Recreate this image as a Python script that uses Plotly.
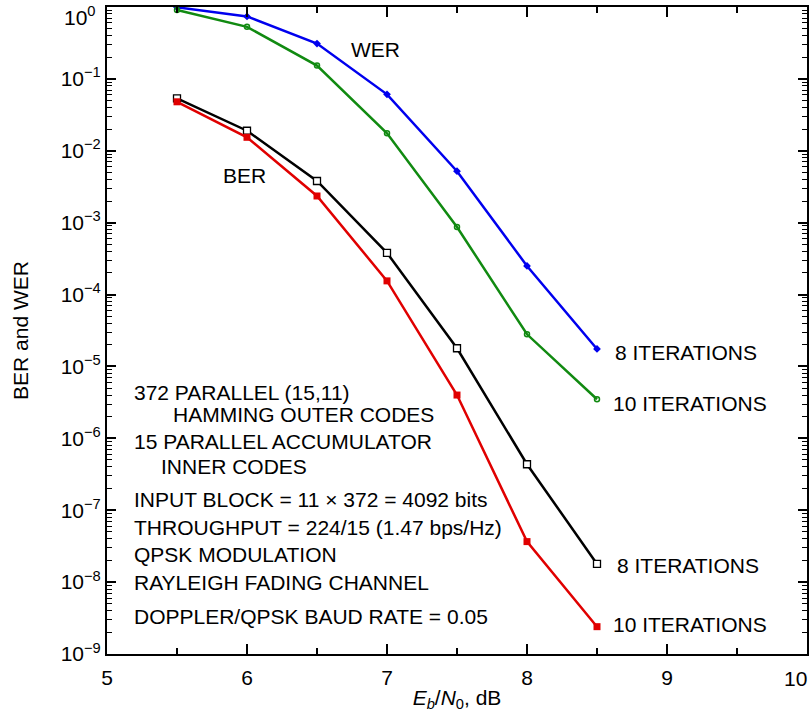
import plotly.graph_objects as go

ebn0 = [5.5, 6.0, 6.5, 7.0, 7.5, 8.0, 8.5]
wer_8 = [0.99, 0.74, 0.31, 0.061, 5.2e-3, 2.5e-4, 1.75e-5]
wer_10 = [0.91, 0.53, 0.153, 0.0175, 8.7e-4, 2.8e-5, 3.5e-6]
ber_8 = [0.0537, 0.019, 3.8e-3, 3.8e-4, 1.79e-5, 4.36e-7, 1.79e-8]
ber_10 = [0.048, 0.0154, 2.35e-3, 1.55e-4, 4.0e-6, 3.66e-8, 2.4e-9]

y_exponents = list(range(-9, 1))
y_ticktext = ["10<sup>" + (str(e) if e >= 0 else "\u2212" + str(-e)) + "</sup>" for e in y_exponents]
x_ticks = [5, 6, 7, 8, 9, 10]
x_ticktext = [str(v) for v in x_ticks]

# labels at the very ends of the axes are nudged inward (as in the reference)
y_top_label = y_ticktext[-1]
x_end_label = x_ticktext[-1]
y_ticktext_axis = y_ticktext[:-1] + [""]
x_ticktext_axis = x_ticktext[:-1] + [""]

notes = [
    ("372 PARALLEL (15,11)", 5.179, -5.369),
    ("HAMMING OUTER CODES", 5.458, -5.675),
    ("15 PARALLEL ACCUMULATOR", 5.179, -6.050),
    ("INNER CODES", 5.372, -6.398),
    ("INPUT BLOCK = 11 \u00d7 372 = 4092 bits", 5.179, -6.857),
    ("THROUGHPUT = 224/15 (1.47 bps/Hz)", 5.179, -7.246),
    ("QPSK MODULATION", 5.179, -7.622),
    ("RAYLEIGH FADING CHANNEL", 5.179, -8.011),
    ("DOPPLER/QPSK BAUD RATE = 0.05", 5.179, -8.484),
]
curve_labels = [
    ("WER", 6.917, -0.598, "center"),
    ("BER", 5.98, -2.35, "center"),
    ("8 ITERATIONS", 8.612, -4.81, "left"),
    ("10 ITERATIONS", 8.598, -5.52, "left"),
    ("8 ITERATIONS", 8.626, -7.77, "left"),
    ("10 ITERATIONS", 8.598, -8.59, "left"),
]

FONT = "Liberation Sans, Arial, Helvetica, sans-serif"
FS = 21

fig = go.Figure()
fig.add_trace(go.Scatter(x=ebn0, y=wer_8, mode="lines+markers",
                         line=dict(color="#0000ee", width=2.5),
                         marker=dict(symbol="diamond", size=6, color="#0000ee")))
fig.add_trace(go.Scatter(x=ebn0, y=wer_10, mode="lines+markers",
                         line=dict(color="#118a11", width=2.5),
                         marker=dict(symbol="circle-open", size=5, color="#118a11",
                                     line=dict(width=1.5))))
fig.add_trace(go.Scatter(x=ebn0, y=ber_8, mode="lines+markers",
                         line=dict(color="black", width=2.5),
                         marker=dict(symbol="square", size=7, color="white",
                                     line=dict(color="black", width=1.3))))
fig.add_trace(go.Scatter(x=ebn0, y=ber_10, mode="lines+markers",
                         line=dict(color="#e00000", width=2.5),
                         marker=dict(symbol="square", size=7, color="#e00000")))

for text, x, y in notes:
    fig.add_annotation(x=x, y=y, text=text, showarrow=False, xanchor="left",
                       yanchor="middle", font=dict(size=FS, color="black", family=FONT))
for text, x, y, anchor in curve_labels:
    fig.add_annotation(x=x, y=y, text=text, showarrow=False, xanchor=anchor,
                       yanchor="middle", font=dict(size=FS, color="black", family=FONT))

fig.add_annotation(xref="paper", x=0, yref="y", y=y_exponents[-1], text=y_top_label,
                   showarrow=False, xanchor="right", yanchor="middle",
                   xshift=-9, yshift=-9, font=dict(size=FS, color="black", family=FONT))
fig.add_annotation(xref="x", x=x_ticks[-1], yref="paper", y=0, text=x_end_label,
                   showarrow=False, xanchor="right", yanchor="middle",
                   xshift=2, yshift=-24, font=dict(size=FS, color="black", family=FONT))

minor_y = [k * 10.0 ** e for e in range(-9, 0) for k in range(2, 10)]

fig.update_layout(
    width=810, height=717,
    margin=dict(l=107, r=3, t=7, b=63, autoexpand=False),
    paper_bgcolor="white", plot_bgcolor="white",
    showlegend=False,
    font=dict(family=FONT, size=FS, color="black"),
    xaxis=dict(
        range=[5, 10], tickvals=x_ticks, ticktext=x_ticktext_axis,
        ticks="inside", ticklen=10, tickwidth=1.5,
        tickcolor="black", showline=True, linewidth=2, linecolor="black",
        mirror="ticks", showgrid=False, zeroline=False, ticklabeloverflow="allow",
        automargin=False, ticklabelstandoff=4,
        minor=dict(dtick=0.5, tick0=5, ticks="inside", ticklen=6, tickwidth=1.5,
                   tickcolor="black", showgrid=False),
        tickfont=dict(size=FS),
        title=dict(text="<i>E<sub>b</sub></i>/<i>N</i><sub>0</sub>, dB",
                   font=dict(size=FS), standoff=2),
    ),
    yaxis=dict(
        type="log", range=[-9, 0],
        tickvals=[10.0 ** e for e in y_exponents], ticktext=y_ticktext_axis,
        ticks="inside", ticklen=9, tickwidth=1.5, tickcolor="black",
        showline=True, linewidth=2, linecolor="black", mirror="ticks",
        showgrid=False, zeroline=False, ticklabeloverflow="allow",
        automargin=False,
        minor=dict(tickvals=minor_y, ticks="inside", ticklen=5, tickwidth=1.2,
                   tickcolor="black", showgrid=False),
        tickfont=dict(size=FS),
        title=dict(text="BER and WER", font=dict(size=FS), standoff=26),
    ),
)

fig.write_html("out.html")
